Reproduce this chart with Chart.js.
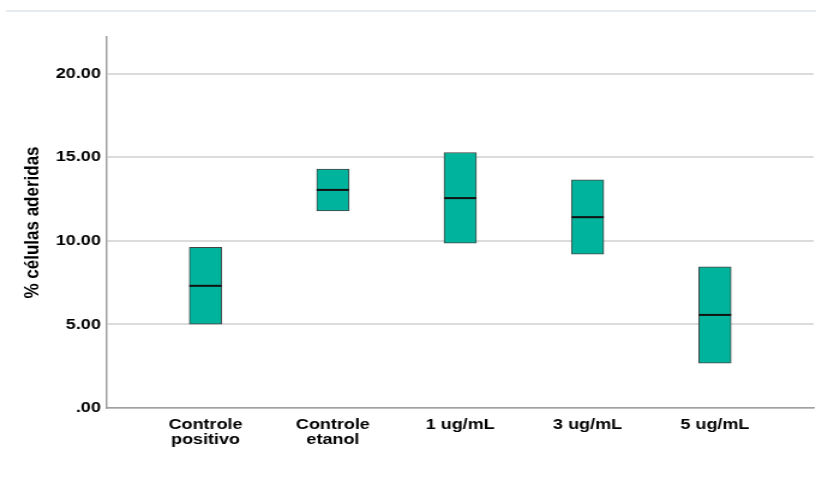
<!DOCTYPE html>
<html>
<head>
<meta charset="utf-8">
<script src="https://cdn.jsdelivr.net/npm/chart.js@4/dist/chart.umd.min.js"></script>
<style>
  html, body { margin: 0; padding: 0; background: #fff; width: 816px; height: 485px; overflow: hidden; }
  #rule { position: absolute; left: 6px; top: 10px; width: 810px; height: 2px; background: #e6ebef; }
  /* the plot is laid out at 680px and widened 1.2x to the full page width */
  #wrap { position: absolute; left: 0; top: 0; width: 680px; height: 485px; transform: scaleX(1.2); transform-origin: 0 0; }
</style>
</head>
<body>
<div id="rule"></div>
<div id="wrap"><canvas id="c" width="680" height="485"></canvas></div>
<script>
// Adhered cells (%) per treatment group: box from low to high, line at the median
const groups = [["Controle", "positivo"], ["Controle", "etanol"], "1 ug/mL", "3 ug/mL", "5 ug/mL"];
const lowValues = [5.01, 11.80, 9.86, 9.20, 2.68];
const highValues = [9.62, 14.29, 15.29, 13.65, 8.44];
const medianValues = [7.31, 13.05, 12.56, 11.42, 5.57];
const yTicks = [0, 5, 10, 15, 20];

const FONT = "'Liberation Sans', Arial, Helvetica, sans-serif";

new Chart(document.getElementById('c'), {
  type: 'bar',
  data: {
    datasets: [
      {
        type: 'bar',
        data: groups.map((g, i) => ({ x: i, y: [lowValues[i], highValues[i]] })),
        backgroundColor: '#00b39c',
        borderColor: '#444',
        borderWidth: 1,
        borderSkipped: false,
        barThickness: 27,
        order: 2
      },
      {
        type: 'scatter',
        data: groups.map((g, i) => ({ x: i, y: medianValues[i] })),
        pointStyle: 'line',
        pointRadius: 13.5,
        pointHoverRadius: 13.5,
        pointBorderWidth: 2,
        pointBorderColor: '#111',
        order: 1
      }
    ]
  },
  options: {
    responsive: false,
    animation: false,
    devicePixelRatio: 1,
    layout: { autoPadding: false, padding: { top: 37, right: 2, left: 0, bottom: 0 } },
    plugins: { legend: { display: false }, tooltip: { enabled: false } },
    scales: {
      x: {
        type: 'linear',
        min: -0.775,
        max: 4.775,
        offset: false,
        grid: { display: false, drawTicks: false },
        border: { display: true, color: '#a0a0a0', width: 1.5 },
        afterBuildTicks: s => { s.ticks = groups.map((g, i) => ({ value: i })); },
        afterFit: s => { s.height = 77; s.paddingLeft = 0; s.paddingRight = 0; },
        ticks: {
          callback: v => groups[v],
          color: '#000',
          font: { family: FONT, weight: 'bold', size: 15, lineHeight: 1.0 },
          padding: 9,
          maxRotation: 0,
          autoSkip: false
        }
      },
      y: {
        min: 0,
        max: 22.2,
        afterBuildTicks: s => { s.ticks = yTicks.map(v => ({ value: v })); },
        afterFit: s => { s.width = 89; },
        grid: { color: '#dcdcdc', lineWidth: 2, drawTicks: false },
        border: { display: true, color: '#a0a0a0', width: 1.5 },
        ticks: {
          callback: v => (v === 0 ? '.00' : v.toFixed(2)),
          color: '#000',
          font: { family: FONT, weight: 'bold', size: 15 },
          padding: 5
        },
        title: {
          display: true,
          text: '% células aderidas',
          color: '#000',
          font: { family: FONT, weight: 'bold', size: 17 },
          padding: { top: 17, bottom: 0 }
        }
      }
    }
  }
});
</script>
</body>
</html>
